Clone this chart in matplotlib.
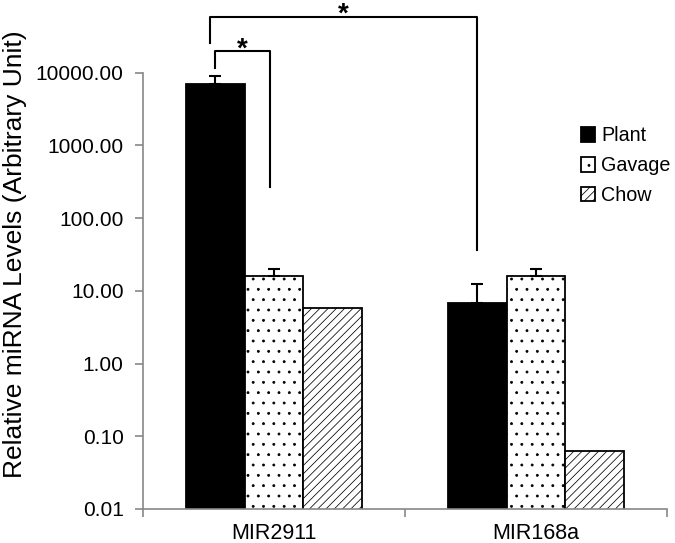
import matplotlib
matplotlib.use("Agg")
import matplotlib.pyplot as plt
import numpy as np

categories = ["MIR2911", "MIR168a"]
series = ["Plant", "Gavage", "Chow"]
plant = [6950, 6.9]
gavage = [16.2, 15.9]
chow = [5.8, 0.063]
plant_err = [2170, 5.4]
gavage_err = [3.8, 3.9]
chow_err = [0, 0]
yticks = [0.01, 0.1, 1, 10, 100, 1000, 10000]
ytick_labels = ["0.01", "0.10", "1.00", "10.00", "100.00", "1000.00", "10000.00"]

DPI = 124
S = 100 / DPI  # keeps sizes designed for 100 dpi in pixels

plt.rcParams['font.family'] = ['Liberation Sans', 'DejaVu Sans']
plt.rcParams['hatch.linewidth'] = 0.55 * S

fig = plt.figure(figsize=(675 / DPI, 543 / DPI), dpi=DPI)
ax = fig.add_axes([143/675, 1-509/543, (667-143)/675, (509-72.7)/543])

x = np.arange(len(categories))
w = 0.224
styles = [
    dict(color="black", edgecolor="black", hatch=None),
    dict(color="white", edgecolor="black", hatch=".."),
    dict(color="white", edgecolor="black", hatch="/////"),
]
vals = [plant, gavage, chow]
errs = [plant_err, gavage_err, chow_err]
for i, (name, v, e, st) in enumerate(zip(series, vals, errs, styles)):
    pos = x + (i - 1) * w
    ax.bar(pos, v, width=w, label=name, linewidth=1.3 * S, zorder=2,
           color=st["color"], edgecolor=st["edgecolor"], hatch=st["hatch"])
    e = np.array(e, dtype=float)
    mask = e > 0
    if mask.any():
        ax.errorbar(pos[mask], np.array(v)[mask],
                    yerr=[np.zeros(mask.sum()), e[mask]],
                    fmt="none", ecolor="black", elinewidth=1.5 * S, capsize=4 * S,
                    capthick=1.5 * S, zorder=3)

ax.set_yscale("log")
ax.set_ylim(0.01, 10000)
ax.set_xlim(-0.5, 1.5)
ax.set_yticks(yticks)
ax.set_yticklabels(ytick_labels)
ax.yaxis.set_minor_locator(matplotlib.ticker.NullLocator())
ax.set_xticks(x)
ax.set_xticklabels(categories)
ax.set_xticks([-0.5, 0.5, 1.5], minor=True)
ax.tick_params(axis="x", which="major", length=0, pad=10 * S, labelsize=15.5 * S)
ax.tick_params(axis="x", which="minor", length=6 * S, color="#888888", width=1.2 * S)
ax.tick_params(axis="y", length=6 * S, color="#888888", width=1.2 * S,
               labelsize=15 * S, pad=8 * S)
for s in ["top", "right"]:
    ax.spines[s].set_visible(False)
for s in ["left", "bottom"]:
    ax.spines[s].set_color("#888888")
    ax.spines[s].set_linewidth(1.2 * S)
ax.set_ylabel("Relative miRNA Levels (Arbitrary Unit)", fontsize=19 * S)
ax.yaxis.set_label_coords((27 - 143) / 524, (509 - 254) / 436.3)

# significance brackets
def bracket(x0, x1, ytop, y0, y1, label, ystar):
    ax.plot([x0, x0, x1, x1], [y0, ytop, ytop, y1], color="black", lw=1.5 * S,
            clip_on=False, zorder=4)
    ax.text((x0 + x1) / 2, ystar, label, ha="center", va="center", fontsize=20 * S,
            fontweight="bold", clip_on=False)

bracket(x[0] - w - 0.02, x[1] - w, 59000, 25300, 36.5, "*", 10**4.80)
bracket(x[0] - w, x[0] - 0.015, 19950, 11750, 268, "*", 10**4.32)

leg = ax.legend(loc="upper left", bbox_to_anchor=(0.82, 0.895), frameon=False,
                fontsize=14.2 * S, handlelength=0.75, handleheight=0.75,
                handletextpad=0.3, labelspacing=0.55, borderaxespad=0)

fig.savefig("out.png", dpi=DPI)
